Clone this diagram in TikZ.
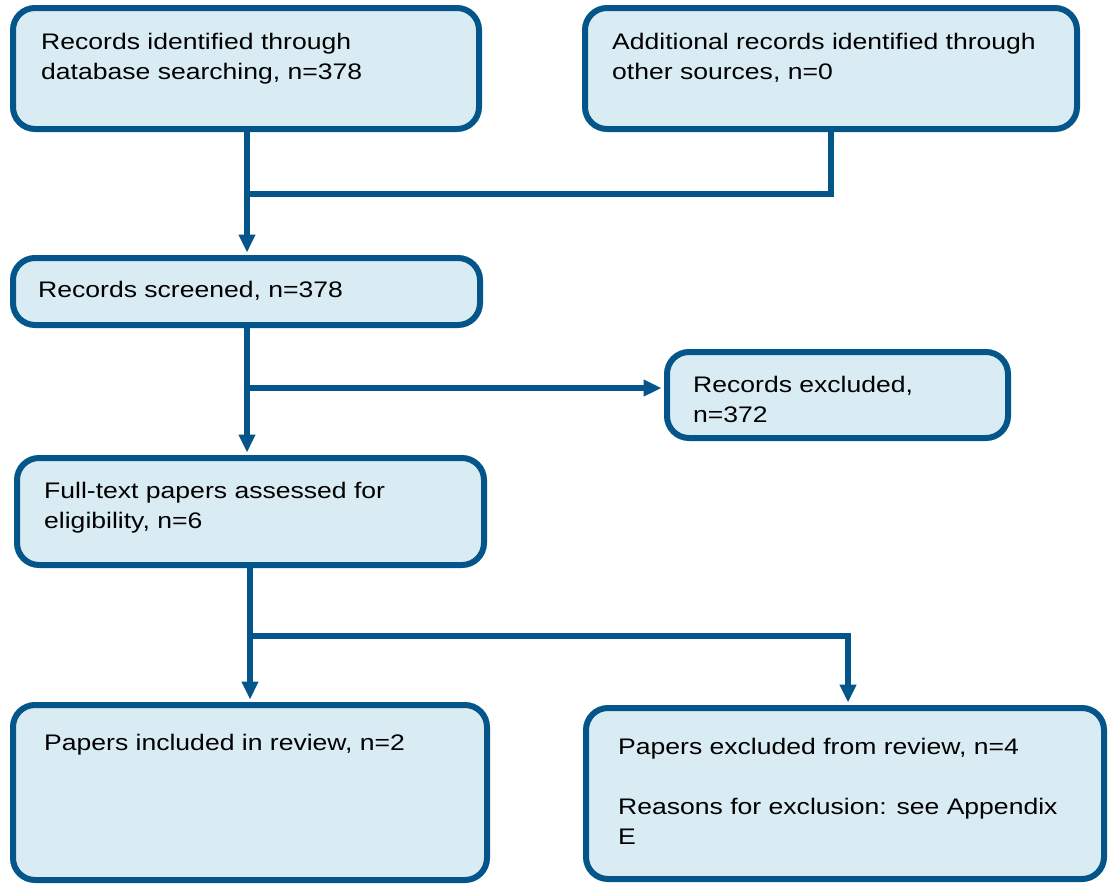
\documentclass[tikz,border=0pt]{standalone}
\usepackage{fontspec}
\setmainfont{Liberation Sans}[FakeStretch=1.18]
\usetikzlibrary{arrows.meta}
\definecolor{bordc}{HTML}{03558A}
\definecolor{fillc}{HTML}{DAECF3}
\begin{document}
\begin{tikzpicture}[x=1pt,y=-1pt,
  box/.style={draw=bordc, fill=fillc, line width=6pt, rounded corners=22pt, inner sep=0pt},
  txt/.style={anchor=north west, inner sep=0pt, align=left, font=\fontsize{22.5}{30}\selectfont, text=black},
  conn/.style={draw=bordc, line width=5.5pt},
  arr/.style={conn, -{Triangle[length=18pt,width=16pt]}, shorten >=2.5pt}]
\useasboundingbox (0,0) rectangle (1109,884);
% boxes
\node[box, minimum width=466pt, minimum height=121pt] (b1) at (246,68.5) {};
\node[box, minimum width=492pt, minimum height=121pt] (b2) at (831,68.5) {};
\node[box, minimum width=467pt, minimum height=67pt] (b3) at (246.5,291.5) {};
\node[box, minimum width=341pt, minimum height=86pt] (b4) at (837.5,395) {};
\node[box, minimum width=467pt, minimum height=107pt] (b5) at (250.5,511.5) {};
\node[box, minimum width=474pt, minimum height=175pt] (b6) at (250,792.5) {};
\node[box, minimum width=518pt, minimum height=171pt] (b7) at (845,793.5) {};
% texts
\node[txt] (t1) at (41,28.5) {\strut Records identified through\\database searching, n=378};
\node[txt] (t2) at (612,28.5) {\strut Additional records identified through\\other sources, n=0};
\node[txt] (t3) at (38,276) {\strut Records screened, n=378};
\node[txt] (t4) at (693,371) {\strut Records excluded,\\n=372};
\node[txt] (t5) at (44,477) {\strut Full-text papers assessed for\\eligibility, n=6};
\node[txt] (t6) at (44,729) {\strut Papers included in review, n=2};
\node[txt] (t7) at (618,733) {\strut Papers excluded from review, n=4\\[30pt]Reasons for exclusion: see Appendix\\E};
% connectors
\coordinate (j1) at (247,194);
\coordinate (j2) at (247,388);
\coordinate (j3) at (250,636);
\draw[conn] (b2.south) |- (j1);
\draw[arr] (b1.south -| j1) -- (j1 |- b3.north);
\draw[arr] (b3.south -| j2) -- (j2 |- b5.north);
\draw[arr] (j2) -- (j2 -| b4.west);
\draw[arr] (b5.south -| j3) -- (j3 |- b6.north);
\draw[arr] (j3) -| ([xshift=3pt]b7.north);
\end{tikzpicture}
\end{document}
